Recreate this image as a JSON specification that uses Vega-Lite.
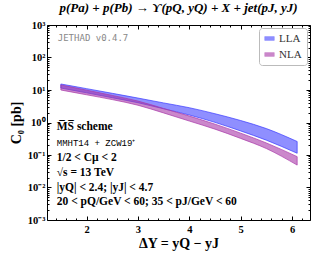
{
  "$schema": "https://vega.github.io/schema/vega-lite/v6.json",
  "autosize": {"type": "none"},
  "padding": {"left": 47, "top": 25, "right": 7, "bottom": 33},
  "width": 263,
  "height": 195,
  "background": "white",
  "title": {
    "text": "p(Pa) + p(Pb) → ϒ(pQ, yQ) + X + jet(pJ, yJ)",
    "font": "Liberation Serif",
    "fontSize": 13,
    "fontWeight": "bold",
    "fontStyle": "italic",
    "color": "black",
    "anchor": "middle",
    "offset": 5
  },
  "config": {
    "view": {"stroke": "black", "strokeWidth": 1},
    "axis": {
      "grid": false,
      "domain": false,
      "tickColor": "black",
      "labelFont": "Liberation Serif",
      "labelFontWeight": "bold",
      "labelFontSize": 10.5,
      "labelColor": "black",
      "titleFont": "Liberation Serif",
      "titleFontWeight": "bold",
      "titleFontSize": 14,
      "titleColor": "black"
    },
    "legend": {
      "orient": "top-right",
      "offset": 3,
      "fillColor": "white",
      "strokeColor": "#bbbbbb",
      "cornerRadius": 3,
      "padding": 5,
      "rowPadding": 4,
      "labelFont": "Liberation Serif",
      "labelFontSize": 11,
      "labelColor": "#333333",
      "symbolType": "M-1.5,-0.6H1.5V0.6H-1.5Z",
      "symbolSize": 40,
      "symbolStrokeWidth": 0.6,
      "symbolOpacity": 0.6
    }
  },
  "data": {
    "values": [
      {"dy": 1.5, "band": "LLA", "lo": 11.5, "hi": 15.3},
      {"dy": 2.0, "band": "LLA", "lo": 8.2, "hi": 11.0},
      {"dy": 2.5, "band": "LLA", "lo": 5.8, "hi": 7.9},
      {"dy": 3.0, "band": "LLA", "lo": 4.07, "hi": 5.65},
      {"dy": 3.5, "band": "LLA", "lo": 2.64, "hi": 4.0},
      {"dy": 4.0, "band": "LLA", "lo": 1.7, "hi": 2.85},
      {"dy": 4.5, "band": "LLA", "lo": 1.01, "hi": 1.86},
      {"dy": 5.0, "band": "LLA", "lo": 0.55, "hi": 1.15},
      {"dy": 5.5, "band": "LLA", "lo": 0.286, "hi": 0.65},
      {"dy": 6.1, "band": "LLA", "lo": 0.113, "hi": 0.26},
      {"dy": 1.5, "band": "NLA", "lo": 10.0, "hi": 14.3},
      {"dy": 2.0, "band": "NLA", "lo": 7.13, "hi": 9.9},
      {"dy": 2.5, "band": "NLA", "lo": 5.07, "hi": 6.8},
      {"dy": 3.0, "band": "NLA", "lo": 3.4, "hi": 4.56},
      {"dy": 3.5, "band": "NLA", "lo": 1.97, "hi": 2.7},
      {"dy": 4.0, "band": "NLA", "lo": 1.11, "hi": 1.58},
      {"dy": 4.5, "band": "NLA", "lo": 0.625, "hi": 0.89},
      {"dy": 5.0, "band": "NLA", "lo": 0.324, "hi": 0.47},
      {"dy": 5.5, "band": "NLA", "lo": 0.158, "hi": 0.235},
      {"dy": 6.1, "band": "NLA", "lo": 0.049, "hi": 0.089}
    ]
  },
  "layer": [
    {
      "mark": {"type": "area", "fillOpacity": 0.6, "strokeWidth": 0.7, "interpolate": "monotone"},
      "encoding": {
        "x": {
          "field": "dy", "type": "quantitative",
          "scale": {"domain": [1.23, 6.35], "nice": false, "zero": false},
          "axis": {"orient": "bottom", "values": [2, 3, 4, 5, 6], "tickSize": -4, "labelPadding": 8, "title": "ΔY = yQ − yJ", "titlePadding": 2}
        },
        "y": {
          "field": "lo", "type": "quantitative",
          "scale": {"type": "log", "domain": [0.001, 1000], "nice": false},
          "axis": {"orient": "left", "values": [0.001, 0.01, 0.1, 1, 10, 100, 1000], "tickSize": -4, "labelPadding": 6,
                   "labelExpr": "'10' + ['⁻³','⁻²','⁻¹','⁰','¹','²','³'][round(log(datum.value)/LN10)+3]",
                   "title": "C₀ [pb]", "titlePadding": 4}
        },
        "y2": {"field": "hi"},
        "color": {
          "field": "band", "type": "nominal",
          "scale": {"domain": ["LLA", "NLA"], "range": ["#4444ff", "#a838a8"]},
          "legend": {"title": null}
        },
        "stroke": {
          "field": "band", "type": "nominal",
          "scale": {"domain": ["LLA", "NLA"], "range": ["#3a3aff", "#a838a8"]},
          "legend": null
        }
      }
    },
    {
      "mark": {"type": "point", "opacity": 0},
      "encoding": {
        "x": {"field": "dy", "type": "quantitative",
              "axis": {"orient": "top", "values": [2, 3, 4, 5, 6], "tickSize": -4, "labels": false, "title": null}},
        "y": {"field": "lo", "type": "quantitative",
              "axis": {"orient": "right", "values": [0.001, 0.01, 0.1, 1, 10, 100, 1000], "tickSize": -4, "labels": false, "title": null}}
      }
    },
    {
      "mark": {"type": "point", "opacity": 0},
      "encoding": {
        "x": {"field": "dy", "type": "quantitative",
              "axis": {"orient": "bottom", "values": [1.4, 1.6, 1.8, 2.2, 2.4, 2.6, 2.8, 3.2, 3.4, 3.6, 3.8, 4.2, 4.4, 4.6, 4.8, 5.2, 5.4, 5.6, 5.8, 6.2], "tickSize": -2, "labels": false, "title": null}},
        "y": {"field": "lo", "type": "quantitative",
              "axis": {"orient": "left", "values": [0.002, 0.003, 0.004, 0.005, 0.006, 0.007, 0.008, 0.009, 0.02, 0.03, 0.04, 0.05, 0.06, 0.07, 0.08, 0.09, 0.2, 0.3, 0.4, 0.5, 0.6, 0.7, 0.8, 0.9, 2, 3, 4, 5, 6, 7, 8, 9, 20, 30, 40, 50, 60, 70, 80, 90, 200, 300, 400, 500, 600, 700, 800, 900], "tickSize": -2, "labels": false, "title": null}}
      }
    },
    {
      "mark": {"type": "point", "opacity": 0},
      "encoding": {
        "x": {"field": "dy", "type": "quantitative",
              "axis": {"orient": "top", "values": [1.4, 1.6, 1.8, 2.2, 2.4, 2.6, 2.8, 3.2, 3.4, 3.6, 3.8, 4.2, 4.4, 4.6, 4.8, 5.2, 5.4, 5.6, 5.8, 6.2], "tickSize": -2, "labels": false, "title": null}},
        "y": {"field": "lo", "type": "quantitative",
              "axis": {"orient": "right", "values": [0.002, 0.003, 0.004, 0.005, 0.006, 0.007, 0.008, 0.009, 0.02, 0.03, 0.04, 0.05, 0.06, 0.07, 0.08, 0.09, 0.2, 0.3, 0.4, 0.5, 0.6, 0.7, 0.8, 0.9, 2, 3, 4, 5, 6, 7, 8, 9, 20, 30, 40, 50, 60, 70, 80, 90, 200, 300, 400, 500, 600, 700, 800, 900], "tickSize": -2, "labels": false, "title": null}}
      }
    },
    {
      "data": {"values": [{}]},
      "mark": {"type": "text", "text": "JETHAD v0.4.7", "align": "left", "baseline": "middle", "font": "DejaVu Sans Mono", "fontSize": 9, "color": "#888888"},
      "encoding": {
        "x": {"datum": 1.44, "type": "quantitative", "axis": null},
        "y": {"datum": 400, "type": "quantitative", "axis": null}
      }
    },
    {
      "data": {"values": [{}]},
      "mark": {"type": "text", "text": "M̅S̅ scheme", "align": "left", "baseline": "middle", "font": "Liberation Serif", "fontWeight": "bold", "fontSize": 11.5, "color": "black"},
      "encoding": {
        "x": {"datum": 1.42, "type": "quantitative", "axis": null},
        "y": {"datum": 0.72, "type": "quantitative", "axis": null}
      }
    },
    {
      "data": {"values": [{}]},
      "mark": {"type": "text", "text": "MMHT14 + ZCW19⁺", "align": "left", "baseline": "middle", "font": "Liberation Mono", "fontSize": 9, "color": "black"},
      "encoding": {
        "x": {"datum": 1.42, "type": "quantitative", "axis": null},
        "y": {"datum": 0.234, "type": "quantitative", "axis": null}
      }
    },
    {
      "data": {"values": [{}]},
      "mark": {"type": "text", "text": "1/2 < Cμ < 2", "align": "left", "baseline": "middle", "font": "Liberation Serif", "fontWeight": "bold", "fontSize": 11.5, "color": "black"},
      "encoding": {
        "x": {"datum": 1.42, "type": "quantitative", "axis": null},
        "y": {"datum": 0.081, "type": "quantitative", "axis": null}
      }
    },
    {
      "data": {"values": [{}]},
      "mark": {"type": "text", "text": "√s = 13 TeV", "align": "left", "baseline": "middle", "font": "Liberation Serif", "fontWeight": "bold", "fontSize": 11.5, "color": "black"},
      "encoding": {
        "x": {"datum": 1.42, "type": "quantitative", "axis": null},
        "y": {"datum": 0.028, "type": "quantitative", "axis": null}
      }
    },
    {
      "data": {"values": [{}]},
      "mark": {"type": "text", "text": "|yQ| < 2.4;  |yJ| < 4.7", "align": "left", "baseline": "middle", "font": "Liberation Serif", "fontWeight": "bold", "fontSize": 11.5, "color": "black"},
      "encoding": {
        "x": {"datum": 1.42, "type": "quantitative", "axis": null},
        "y": {"datum": 0.0097, "type": "quantitative", "axis": null}
      }
    },
    {
      "data": {"values": [{}]},
      "mark": {"type": "text", "text": "20 < pQ/GeV < 60; 35 < pJ/GeV < 60", "align": "left", "baseline": "middle", "font": "Liberation Serif", "fontWeight": "bold", "fontSize": 11.5, "color": "black"},
      "encoding": {
        "x": {"datum": 1.42, "type": "quantitative", "axis": null},
        "y": {"datum": 0.0035, "type": "quantitative", "axis": null}
      }
    }
  ]
}
